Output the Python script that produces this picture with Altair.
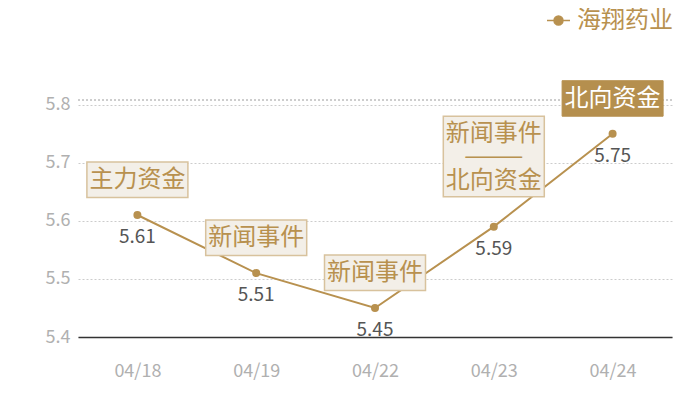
import altair as alt
import pandas as pd

# ---- data ----
dates = ["04/18", "04/19", "04/22", "04/23", "04/24"]
values = [5.61, 5.51, 5.45, 5.59, 5.75]
events = ["主力资金", "新闻事件", "新闻事件", "新闻事件\n———\n北向资金", "北向资金"]
series_name = "海翔药业"
y_ticks = [5.4, 5.5, 5.6, 5.7, 5.8]

df = pd.DataFrame({"date": dates, "value": values, "event": events, "series": series_name})

# ---- style ----
GOLD = "#b8914f"
BOX_FILL = "#f3efe8"
BOX_STROKE = "#d8c29d"
DARK_FILL = "#b58f4e"
CJK = "Noto Sans CJK SC"
W, H = 594, 237
UNIT = 50.5  # custom symbol unit (px) for size = (2*UNIT)^2
BOX_SIZE = (2 * UNIT) ** 2


def box_path(top, bottom):
    t, b = top / UNIT, bottom / UNIT
    return f"M-1,{t:.4f}L1,{t:.4f}L1,{b:.4f}L-1,{b:.4f}Z"


x_enc = alt.X("date:N", sort=dates, scale=alt.Scale(padding=0.5),
              axis=alt.Axis(title=None, labelAngle=0, ticks=False, domainColor="#333333",
                            domainWidth=1.5, labelColor="#b0b0b0", labelFontSize=18,
                            labelPadding=25, labelFont=CJK, grid=False))
y_enc = alt.Y("value:Q", scale=alt.Scale(domain=[5.4, 5.808], nice=False, zero=False),
              axis=alt.Axis(title=None, values=y_ticks, format=".1f", domain=False, ticks=False,
                            labelColor="#b0b0b0", labelFontSize=18, labelFont=CJK,
                            labelPadding=8, gridColor="#cccccc", gridDash=[2, 2], gridWidth=1))

base = alt.Chart(df).encode(x=x_enc, y=y_enc)

top_rule = alt.Chart(df).mark_rule(color="#cccccc", strokeDash=[2, 2], strokeWidth=1).encode(
    x=alt.value(0), x2=alt.value(W), y=alt.value(0))

legend_shape = "M-1,0L1,0M-0.39,0A0.39,0.39,0,1,0,0.39,0A0.39,0.39,0,1,0,-0.39,0Z"
color_enc = alt.Color("series:N", scale=alt.Scale(range=[GOLD]),
                      legend=alt.Legend(title=None, orient="none", legendX=468, legendY=-92,
                                        symbolType=legend_shape, symbolSize=529,
                                        symbolFillColor=GOLD, symbolStrokeColor=GOLD,
                                        symbolStrokeWidth=1.5, labelFontSize=24,
                                        labelColor=GOLD, labelFont=CJK, labelOffset=6,
                                        padding=0))

line = base.mark_line(strokeWidth=2).encode(color=color_enc)
pts = base.mark_point(filled=True, size=64, opacity=1).encode(color=color_enc)

labels = base.mark_text(dy=22, fontSize=19, color="#555555", font=CJK, baseline="middle").encode(
    text=alt.Text("value:Q", format=".2f"))

single = [dates[0], dates[1], dates[2]]
multi = [dates[3]]
dark = [dates[4]]

box_single = base.transform_filter(alt.FieldOneOfPredicate(field="date", oneOf=single)).mark_point(
    shape=box_path(-53, -17.5), size=BOX_SIZE, filled=True, fill=BOX_FILL, stroke=BOX_STROKE,
    strokeWidth=1.5, opacity=1)
text_single = base.transform_filter(alt.FieldOneOfPredicate(field="date", oneOf=single)).mark_text(
    dy=-35, fontSize=24, color=GOLD, font=CJK, baseline="middle").encode(text="event:N")

box_multi = base.transform_filter(alt.FieldOneOfPredicate(field="date", oneOf=multi)).mark_point(
    shape=box_path(-110.5, -30), size=BOX_SIZE, filled=True, fill=BOX_FILL, stroke=BOX_STROKE,
    strokeWidth=1.5, opacity=1)
text_multi = base.transform_filter(alt.FieldOneOfPredicate(field="date", oneOf=multi)).mark_text(
    dy=-93, fontSize=24, color=GOLD, font=CJK, baseline="middle", lineBreak="\n",
    lineHeight=23.5).encode(text="event:N")

box_dark = base.transform_filter(alt.FieldOneOfPredicate(field="date", oneOf=dark)).mark_point(
    shape=box_path(-53, -17.5), size=BOX_SIZE, filled=True, fill=DARK_FILL, stroke=DARK_FILL,
    strokeWidth=1, opacity=1)
text_dark = base.transform_filter(alt.FieldOneOfPredicate(field="date", oneOf=dark)).mark_text(
    dy=-35, fontSize=24, color="#ffffff", font=CJK, baseline="middle").encode(text="event:N")

chart = alt.layer(
    top_rule, line, pts, labels,
    box_single, text_single, box_multi, text_multi, box_dark, text_dark,
).properties(
    width=W, height=H,
    background="#ffffff",
    autosize=alt.AutoSizeParams(type="none"),
    padding={"left": 70, "top": 92, "right": 20, "bottom": 55},
).configure_view(stroke=None)

chart.save("out.html", embed_options={"renderer": "svg", "actions": False})
